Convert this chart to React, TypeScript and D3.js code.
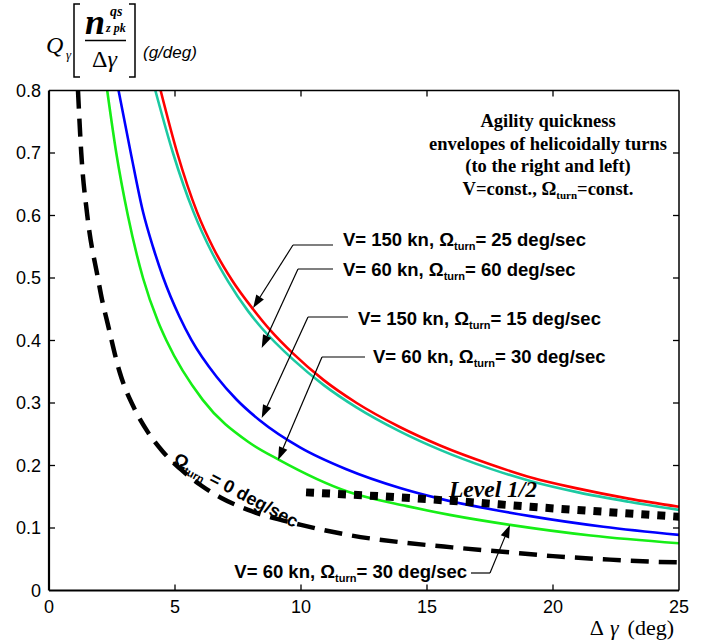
import React from "react";
import * as d3 from "d3";

// ---------- data ----------
const xDomain: [number, number] = [0, 25];
const yDomain: [number, number] = [0, 0.8];
const xTicks = [0, 5, 10, 15, 20, 25];
const yTicks = [0, 0.1, 0.2, 0.3, 0.4, 0.5, 0.6, 0.7, 0.8];

// V=150 kn, Omega_turn = 25 deg/sec (red)
const v150o25: [number, number][] = [
  [4.43, 0.8], [5.09, 0.7], [5.88, 0.605], [6.52, 0.548], [7.27, 0.496], [8.1, 0.45],
  [8.77, 0.417], [9.69, 0.379], [10.89, 0.337], [12.21, 0.3], [13.9, 0.262], [15.52, 0.232],
  [17.5, 0.202], [19.2, 0.18], [21, 0.163], [23, 0.147], [25, 0.134],
];
// V=60 kn, Omega_turn = 60 deg/sec (teal)
const v60o60: [number, number][] = [
  [4.22, 0.8], [4.92, 0.7], [5.74, 0.605], [6.5, 0.538], [7.1, 0.495], [7.9, 0.447],
  [8.44, 0.42], [9.7, 0.369], [10.89, 0.329], [12.2, 0.293], [13.9, 0.255], [15.52, 0.225],
  [17.5, 0.195], [19.2, 0.174], [21, 0.157], [23, 0.142], [25, 0.129],
];
// V=150 kn, Omega_turn = 15 deg/sec (blue)
const v150o15: [number, number][] = [
  [2.76, 0.8], [3.27, 0.695], [3.73, 0.606], [4.14, 0.548], [4.52, 0.502], [5.18, 0.438],
  [5.65, 0.401], [6.65, 0.342], [7.43, 0.306], [8.37, 0.272], [9.96, 0.229], [11.8, 0.194],
  [13.93, 0.164], [15.5, 0.147], [19.1, 0.119], [22, 0.102], [25, 0.089],
];
// V=60 kn, Omega_turn = 30 deg/sec (green)
const v60o30: [number, number][] = [
  [2.31, 0.8], [2.67, 0.7], [3.13, 0.6], [3.73, 0.5], [4.33, 0.43], [4.66, 0.4],
  [6.1, 0.305], [7.9, 0.238], [9.13, 0.209], [11.87, 0.158], [14.2, 0.135], [15.9, 0.121],
  [18.3, 0.105], [21.5, 0.088], [25, 0.0755],
];
// Omega_turn = 0 deg/sec (dashed black)
const o0: [number, number][] = [
  [1.15, 0.8], [1.28, 0.7], [1.52, 0.6], [1.94, 0.5], [2.08, 0.47], [2.34, 0.425],
  [2.8, 0.35], [3.4, 0.29], [3.93, 0.253], [4.52, 0.222], [5.2, 0.195], [6.04, 0.168],
  [6.84, 0.148], [7.9, 0.129], [10, 0.105], [12, 0.088], [14, 0.077], [16, 0.069],
  [18, 0.062], [20, 0.055], [22, 0.05], [24, 0.046], [25, 0.045],
];
// Level 1/2 (thick dotted)
const level12: [number, number][] = [
  [10.2, 0.157], [13.9, 0.149], [16.5, 0.142], [19.1, 0.134], [22, 0.126], [25, 0.118],
];

// annotation arrow tips (data units)
const tipPoints: [number, number][] = [
  [8.1, 0.452], [8.44, 0.388], [8.44, 0.276], [9.09, 0.209], [18.29, 0.105],
];
const annotSpeeds = ["150", "60", "150", "60", "60"];
const annotRates = ["25", "60", "15", "30", "30"];

// ---------- layout ----------
const W = 707, H = 644;
const L = 49, R = 679, T = 90.5, B = 590.5;
const sans = "'Liberation Sans', Arial, Helvetica, sans-serif";
const serif = "'Liberation Serif', 'Times New Roman', Times, serif";

const x = d3.scaleLinear().domain(xDomain).range([L, R]);
const y = d3.scaleLinear().domain(yDomain).range([B, T]);
const line = d3.line<[number, number]>().x(d => x(d[0])).y(d => y(d[1])).curve(d3.curveMonotoneX);

// text placement for annotations: [textX, baseline, anchor, leaderStartX, leaderY, elbowX]
const annotLayout: [number, number, string, number, number, number][] = [
  [343, 246, "start", 333, 245, 293],
  [343, 276, "start", 333, 269, 298],
  [358, 325, "start", 348, 317, 308],
  [373, 363, "start", 365, 357, 322],
  [467, 578, "end", 471, 573, 490],
];

function Arrow({ ex, ey, tx, ty }: { ex: number; ey: number; tx: number; ty: number }) {
  const dx = tx - ex, dy = ty - ey;
  const len = Math.sqrt(dx * dx + dy * dy);
  const ux = dx / len, uy = dy / len;
  const hl = 13, hw = 4.5;
  const bx = tx - ux * hl, by = ty - uy * hl;
  const p1 = [bx - uy * hw, by + ux * hw];
  const p2 = [bx + uy * hw, by - ux * hw];
  return (
    <g>
      <line x1={ex} y1={ey} x2={bx} y2={by} stroke="#000" strokeWidth={1.2} />
      <polygon points={`${tx},${ty} ${p1[0]},${p1[1]} ${p2[0]},${p2[1]}`} fill="#000" />
    </g>
  );
}

export default function App() {
  const series = [
    { d: v150o25, c: "#ff0000" },
    { d: v60o60, c: "#1cc9a2" },
    { d: v150o15, c: "#0000ff" },
    { d: v60o30, c: "#16ee16" },
  ];
  return (
    <svg width={W} height={H} style={{ position: "absolute", left: 0, top: 0, background: "#fff" }}
      xmlns="http://www.w3.org/2000/svg">
      <rect x={0} y={0} width={W} height={H} fill="#fff" />
      <defs>
        <clipPath id="plotclip"><rect x={L} y={T - 1} width={R - L} height={B - T + 1} /></clipPath>
      </defs>

      {/* curves */}
      <g clipPath="url(#plotclip)">
        {series.map((s, i) => (
          <path key={i} d={line(s.d) || ""} fill="none" stroke={s.c} strokeWidth={2.6} />
        ))}
        <path d={line(o0) || ""} fill="none" stroke="#000" strokeWidth={4.5} strokeDasharray="18 10" />
        <path d={line(level12) || ""} fill="none" stroke="#000" strokeWidth={8} strokeDasharray="8 8" />
      </g>

      {/* frame */}
      <line x1={L} y1={T} x2={R} y2={T} stroke="#000" strokeWidth={1.5} />
      <line x1={R} y1={T} x2={R} y2={B} stroke="#000" strokeWidth={1.5} />
      <line x1={L} y1={T} x2={L} y2={B} stroke="#000" strokeWidth={2.2} />
      <line x1={L} y1={B} x2={R} y2={B} stroke="#000" strokeWidth={2.2} />

      {/* ticks */}
      {xTicks.slice(1, -1).map(t => (
        <g key={"xt" + t}>
          <line x1={x(t)} x2={x(t)} y1={B} y2={B - 6} stroke="#000" strokeWidth={1.3} />
          <line x1={x(t)} x2={x(t)} y1={T} y2={T + 6} stroke="#000" strokeWidth={1.3} />
        </g>
      ))}
      {yTicks.slice(1, -1).map(t => (
        <g key={"yt" + t}>
          <line x1={L} x2={L + 6} y1={y(t)} y2={y(t)} stroke="#000" strokeWidth={1.3} />
          <line x1={R} x2={R - 6} y1={y(t)} y2={y(t)} stroke="#000" strokeWidth={1.3} />
        </g>
      ))}
      {xTicks.map(t => (
        <text key={"xl" + t} x={x(t)} y={613} textAnchor="middle" fontFamily={sans} fontSize={18}>{t}</text>
      ))}
      {yTicks.map(t => (
        <text key={"yl" + t} x={41} y={y(t) + 6} textAnchor="end" fontFamily={sans} fontSize={18}>
          {t === 0 ? "0" : t.toFixed(1)}
        </text>
      ))}

      {/* x axis title */}
      <text x={674} y={635} textAnchor="end" fontFamily={serif} fontSize={22}>
        <tspan>Δ</tspan><tspan dx={6} fontStyle="italic">γ</tspan><tspan dx={9}>(deg)</tspan>
      </text>

      {/* y axis label */}
      <g fontFamily={serif}>
        <text x={46} y={53} fontSize={24} fontStyle="italic">Q</text>
        <text x={66} y={59} fontSize={13} fontStyle="italic">γ</text>
        <path d="M80,4 L74,4 L74,77 L80,77" fill="none" stroke="#000" strokeWidth={1.5} />
        <text x={85} y={34} fontSize={36} fontStyle="italic" fontWeight="bold">n</text>
        <text x={110} y={16} fontSize={14} fontStyle="italic" fontWeight="bold">qs</text>
        <text x={106} y={32} fontSize={12} fontStyle="italic" fontWeight="bold">z pk</text>
        <line x1={85} x2={126} y1={40.5} y2={40.5} stroke="#000" strokeWidth={1.3} />
        <text x={92} y={67} fontSize={24}>Δ<tspan fontStyle="italic">γ</tspan></text>
        <path d="M129,4 L135,4 L135,77 L129,77" fill="none" stroke="#000" strokeWidth={1.5} />
      </g>
      <text x={143} y={58} fontFamily={sans} fontSize={17} fontStyle="italic">(g/deg)</text>

      {/* title block */}
      <g fontFamily={serif} fontWeight="bold" fontSize={18.5} textAnchor="middle">
        <text x={548} y={127}>Agility quickness</text>
        <text x={548} y={149.5}>envelopes of helicoidally turns</text>
        <text x={548} y={172}>(to the right and left)</text>
        <text x={548} y={194.5}>V=const., Ω<tspan fontSize={11} dy={4}>turn</tspan><tspan dy={-4}>=const.</tspan></text>
      </g>

      {/* annotations */}
      {annotLayout.map((a, i) => {
        const [tx0, tb, anchor, ls, ly, ex] = a;
        const tp = tipPoints[i];
        return (
          <g key={"an" + i}>
            <text x={tx0} y={tb} textAnchor={anchor} fontFamily={sans} fontWeight="bold" fontSize={18.5}>
              {`V= ${annotSpeeds[i]} kn, Ω`}
              <tspan fontSize={11} dy={4}>turn</tspan>
              <tspan dy={-4}>{`= ${annotRates[i]} deg/sec`}</tspan>
            </text>
            <line x1={ls} y1={ly} x2={ex} y2={ly} stroke="#000" strokeWidth={1.2} />
            <Arrow ex={ex} ey={ly} tx={x(tp[0])} ty={y(tp[1])} />
          </g>
        );
      })}

      {/* Omega = 0 label */}
      <text transform="translate(172,463) rotate(28)" fontFamily={sans} fontWeight="bold" fontSize={18}>
        Ω<tspan fontSize={11} dy={4}>turn</tspan><tspan dy={-4}> = 0 deg/sec</tspan>
      </text>

      {/* Level 1/2 */}
      <text x={449} y={497} fontFamily={serif} fontWeight="bold" fontStyle="italic" fontSize={23.5}>Level 1/2</text>
    </svg>
  );
}
